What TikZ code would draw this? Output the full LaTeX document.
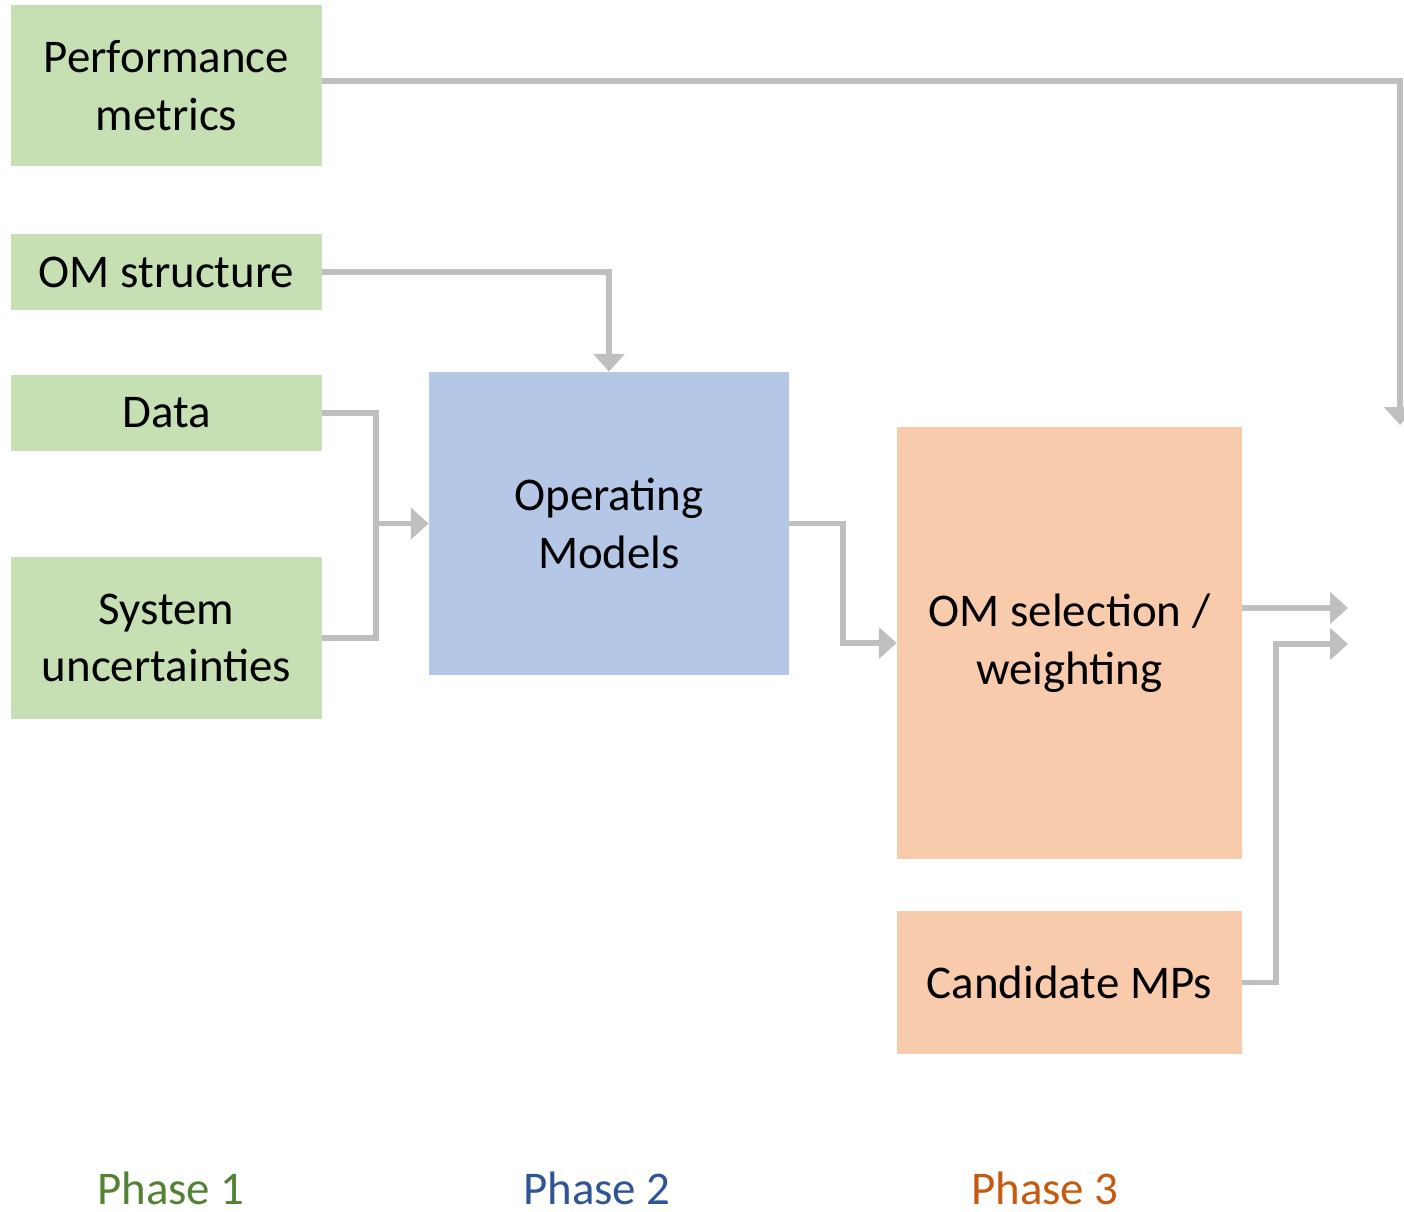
\documentclass[tikz,border=0pt]{standalone}
\usepackage{fontspec}
\setmainfont{Carlito}
\usetikzlibrary{positioning,arrows.meta}
\definecolor{inputgreen}{HTML}{C6E0B4}
\definecolor{modelblue}{HTML}{B4C7E7}
\definecolor{selpeach}{HTML}{F8CBAD}
\definecolor{linegray}{HTML}{BFBFBF}
\definecolor{phaseone}{HTML}{548235}
\definecolor{phasetwo}{HTML}{2F5597}
\definecolor{phasethree}{HTML}{C55A11}
\tikzset{
  flowline/.style={line width=3.3pt, linegray, line join=miter},
  flowarrow/.style={flowline, -{Triangle[width=17.6pt, length=10.2pt]}},
  inputbox/.style={fill=inputgreen, minimum width=6.22cm, align=center, inner sep=0pt},
  modelbox/.style={fill=modelblue, minimum width=7.2cm, minimum height=6.06cm, align=center},
  selbox/.style={fill=selpeach, minimum width=6.9cm, align=center, inner sep=0pt},
  phaselabel/.style={font=\fontsize{26.7}{32.9}\selectfont, inner sep=0pt}
}

\begin{document}
\begin{tikzpicture}[x=0.02cm, y=-0.02cm, every node/.style={font=\fontsize{26.7}{32.9}\selectfont}]
  \useasboundingbox (0,0) rectangle (1404,1212);
  \clip (0,0) rectangle (1404,1212);
  % phase 1 inputs
  \node[inputbox, minimum height=3.22cm] (perf) at (166.5,85.5) {Performance\\metrics};
  \node[inputbox, minimum height=1.52cm] (oms) at (166.5,272) {OM structure};
  \node[inputbox, minimum height=1.52cm] (data) at (166.5,413) {Data};
  \node[inputbox, minimum height=3.24cm] (sys) at (166.5,638) {System\\uncertainties};
  % phase 2
  \node[modelbox] (om) at (609,523.5) {Operating\\Models};
  % phase 3
  \node[selbox, minimum height=8.64cm] (sel) at (1069.5,643) {OM selection /\\weighting};
  \node[selbox, minimum height=2.86cm] (cand) at (1069.5,982.5) {Candidate MPs};
  % free ends
  \coordinate (pmend) at (1400,425);
  \coordinate (join) at (376,523.5);
  \coordinate (selout) at (1348,608);
  \coordinate (candout) at (1348,644);
  % connectors
  \draw[flowarrow] (perf.east |- 0,81) -| (pmend);
  \draw[flowarrow] (oms.east) -| (om.north);
  \draw[flowline] (data.east) -| (join) |- (sys.east);
  \draw[flowarrow] (join) -- (om.west);
  \draw[flowarrow] (om.east) -- ++(54,0) |- (sel.west);
  \draw[flowarrow] (sel.east |- selout) -- (selout);
  \draw[flowarrow] (cand.east) -- ++(34,0) |- (candout);
  % phase labels
  \node[phaselabel, text=phaseone] (ph1) at (171,1188) {Phase 1};
  \node[phaselabel, text=phasetwo] (ph2) at (597,1188) {Phase 2};
  \node[phaselabel, text=phasethree] (ph3) at (1045,1188) {Phase 3};
\end{tikzpicture}
\end{document}
